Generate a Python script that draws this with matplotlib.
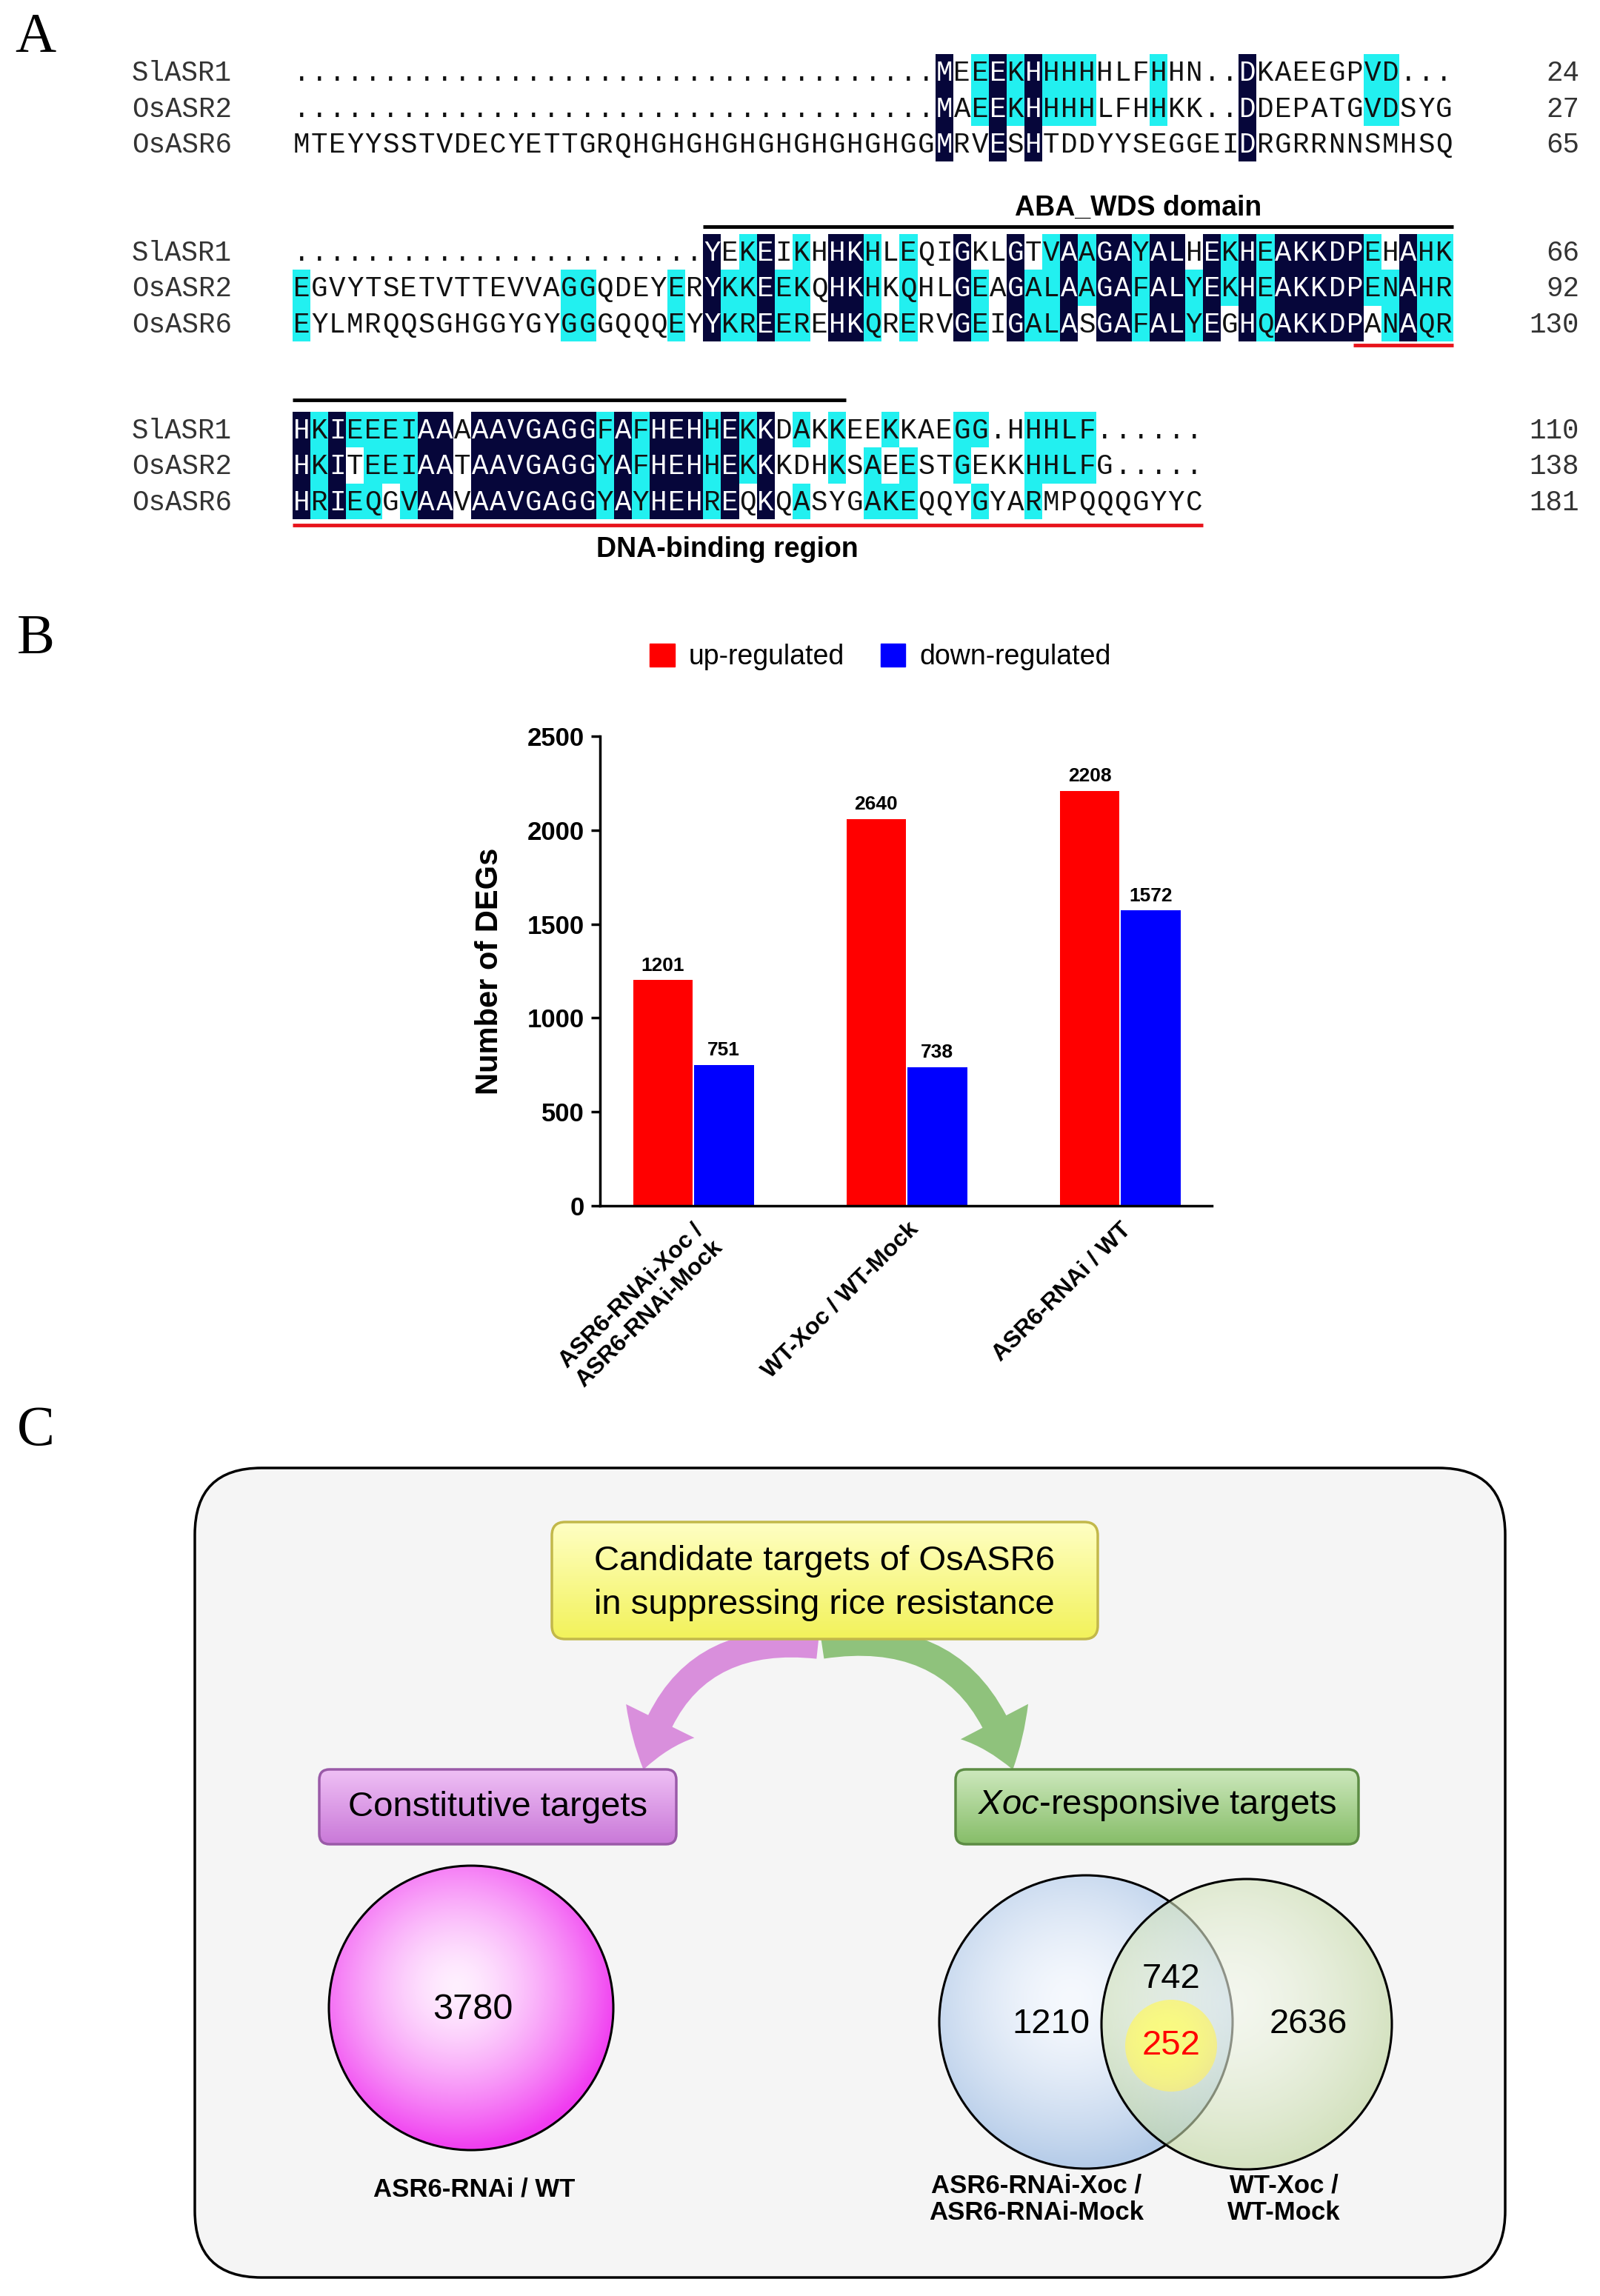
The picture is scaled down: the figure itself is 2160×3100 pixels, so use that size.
import matplotlib.pyplot as plt
import numpy as np
from matplotlib.colors import to_rgb
from matplotlib.patches import Circle, FancyArrowPatch, FancyBboxPatch, Patch, Rectangle

plt.rcParams["font.family"] = ["Liberation Sans", "DejaVu Sans"]
plt.rcParams["mathtext.fontset"] = "custom"
plt.rcParams["mathtext.it"] = "Liberation Sans:italic"
plt.rcParams["mathtext.rm"] = "Liberation Sans"

# ---- panel A: alignment ----
seq_names = ["SlASR1", "OsASR2", "OsASR6"]
block1 = [
    "." * 36 + "MEEEKHHHHHLFHHN..DKAEEGPVD...",
    "." * 36 + "MAEEKHHHHLFHHKK..DDEPATGVDSYG",
    "MTEYYSSTVDECYETTGRQHGHGHGHGHGHGHGHGGMRVESHTDDYYSEGGEIDRGRRNNSMHSQ",
]
block2 = [
    "." * 23 + "YEKEIKHHKHLEQIGKLGTVAAGAYALHEKHEAKKDPEHAHK",
    "EGVYTSETVTTEVVAGGQDEYERYKKEEKQHKHKQHLGEAGALAAGAFALYEKHEAKKDPENAHR",
    "EYLMRQQSGHGGYGYGGGQQQEYYKREEREHKQRERVGEIGALASGAFALYEGHQAKKDPANAQR",
]
block3 = [
    "HKIEEEIAAAAAVGAGGFAFHEHHEKKDAKKEEKKAEGG.HHHLF......",
    "HKITEEIAATAAVGAGGYAFHEHHEKKKDHKSAEESTGEKKHHLFG.....",
    "HRIEQGVAAVAAVGAGGYAYHEHREQKQASYGAKEQQYGYARMPQQQGYYC",
]
block_ends = [[24, 27, 65], [66, 92, 130], [110, 138, 181]]
similar_groups = ["KRH", "EQD", "HQ", "NQD", "ILVM", "FYW", "ST"]

# ---- panel B: DEG counts ----
comparisons = ["ASR6-RNAi-Xoc /\nASR6-RNAi-Mock", "WT-Xoc / WT-Mock", "ASR6-RNAi / WT"]
up_heights = [1201, 2060, 2208]
up_labels = [1201, 2640, 2208]
down_counts = [751, 738, 1572]

# ---- panel C: target sets ----
constitutive_n = 3780
xoc_left_only = 1210
xoc_shared = 742
xoc_core = 252
xoc_right_only = 2636

NAVY = "#06063a"
CYAN = "#22f0f0"
MONO = "Liberation Mono"

fig = plt.figure(figsize=(21.6, 31.0), dpi=100)
ax = fig.add_axes([0, 0, 1, 1])
ax.set_xlim(0, 2160)
ax.set_ylim(3100, 0)
ax.axis("off")


def is_similar(a, b):
    return a == b or any(a in g and b in g for g in similar_groups)


def column_shading(column):
    res = [c for c in column if c != "."]
    if len(res) < 2:
        return [None] * len(column)
    vals, counts = np.unique(res, return_counts=True)
    cons = vals[np.argmax(counts)]
    n = counts.max()
    if n == len(column):
        return ["navy"] * len(column)
    if n >= 2:
        return ["cyan" if c != "." and is_similar(c, cons) else None for c in column]
    return [None] * len(column)


col_w = 24.1
x_seq = 395
row_h = 48.5
block_tops = [97, 340, 580]

for blk, top, ends in zip([block1, block2, block3], block_tops, block_ends):
    ncol = len(blk[0])
    for j in range(ncol):
        column = [row[j] for row in blk]
        shade = column_shading(column)
        x0 = x_seq + j * col_w
        for r, (ch, s) in enumerate(zip(column, shade)):
            yc = top + r * row_h
            tc = "#111111"
            if s == "navy":
                ax.add_patch(Rectangle((x0, yc - row_h / 2), col_w, row_h, fc=NAVY, ec="none", zorder=1))
                tc = "white"
            elif s == "cyan":
                ax.add_patch(Rectangle((x0, yc - row_h / 2), col_w, row_h, fc=CYAN, ec="none", zorder=1))
            ax.text(x0 + col_w / 2, yc + 12, ch, ha="center", va="baseline",
                    fontsize=27, family=MONO, color=tc, zorder=2)
    for r in range(3):
        yc = top + r * row_h
        ax.text(178, yc + 12, seq_names[r], ha="left", va="baseline",
                fontsize=27, family=MONO, color="#333333")
        ax.text(2132, yc + 12, str(ends[r]), ha="right", va="baseline",
                fontsize=27, family=MONO, color="#333333")


def col_x(j):
    return x_seq + j * col_w


# domain annotations
ax.plot([col_x(23), col_x(65)], [306, 306], color="black", lw=3.5, solid_capstyle="butt")
ax.text(1537, 281, "ABA_WDS domain", ha="center", va="center", fontsize=27, fontweight="bold")
ax.plot([col_x(59.4), col_x(65)], [466, 466], color="#e8141c", lw=3.5, solid_capstyle="butt")
ax.plot([col_x(0), col_x(31)], [540, 540], color="black", lw=3.5, solid_capstyle="butt")
ax.plot([col_x(0), col_x(51)], [709, 709], color="#e8141c", lw=3.5, solid_capstyle="butt")
ax.text(982, 742, "DNA-binding region", ha="center", va="center", fontsize=27, fontweight="bold")

for lab, y in zip("ABC", [52, 864, 1933]):
    ax.text(48, y, lab, ha="center", va="center", fontsize=55, family="Liberation Serif")

# ---- panel B ----
axb = fig.add_axes([810 / 2160, 1 - 1628 / 3100, 826 / 2160, 634 / 3100])
x = np.arange(len(comparisons))
off, w = 0.143, 0.28
axb.bar(x - off, up_heights, w, color="#ff0000", label="up-regulated")
axb.bar(x + off, down_counts, w, color="#0000ff", label="down-regulated")
for xi, h, lab in zip(x, up_heights, up_labels):
    axb.text(xi - off, h + 30, str(lab), ha="center", va="bottom", fontsize=19, fontweight="bold")
for xi, h in zip(x, down_counts):
    axb.text(xi + off, h + 30, str(h), ha="center", va="bottom", fontsize=19, fontweight="bold")
axb.set_xlim(-0.4375, 2.43)
axb.set_ylim(0, 2500)
axb.set_yticks(range(0, 2501, 500))
for s in ["top", "right"]:
    axb.spines[s].set_visible(False)
for s in ["left", "bottom"]:
    axb.spines[s].set_linewidth(2.5)
axb.tick_params(axis="y", width=2.5, length=9, labelsize=25, pad=6)
for t in axb.get_yticklabels():
    t.set_fontweight("bold")
axb.set_xticks(x)
axb.set_xticklabels(comparisons, rotation=45, ha="right", rotation_mode="anchor",
                    fontsize=23, fontweight="bold", multialignment="center")
axb.tick_params(axis="x", length=0, pad=12)
axb.set_ylabel("Number of DEGs", fontsize=30, fontweight="bold", labelpad=22)
axb.legend(handles=[Patch(color="#ff0000", label="up-regulated"),
                    Patch(color="#0000ff", label="down-regulated")],
           ncol=2, loc="center", bbox_to_anchor=(0.458, 1.169), frameon=False,
           fontsize=27, handlelength=0.9, handleheight=0.9, handletextpad=0.5,
           columnspacing=1.3)


# ---- panel C ----
def gradient_box(x0, y0, wd, ht, c_top, c_bot, edge, rs, z):
    box = FancyBboxPatch((x0, y0), wd, ht, boxstyle=f"round,pad=0,rounding_size={rs}",
                         fc="none", ec="none", zorder=z)
    ax.add_patch(box)
    g = np.linspace(0, 1, 256)[:, None, None]
    img = np.array(to_rgb(c_top)) * (1 - g) + np.array(to_rgb(c_bot)) * g
    im = ax.imshow(img, extent=(x0, x0 + wd, y0 + ht, y0), aspect="auto",
                   interpolation="bilinear", zorder=z)
    im.set_clip_path(box)
    ax.add_patch(FancyBboxPatch((x0, y0), wd, ht, boxstyle=f"round,pad=0,rounding_size={rs}",
                                fc="none", ec=edge, lw=2.5, zorder=z + 0.1))


def radial_circle(cx, cy, r, c_in, c_out, z, alpha=1.0, power=1.5, edge="black"):
    circ = Circle((cx, cy), r, fc="none", ec="none", zorder=z)
    ax.add_patch(circ)
    s = np.linspace(-1, 1, 300)
    X, Y = np.meshgrid(s, s)
    d = np.clip(np.hypot(X + 0.1, Y + 0.15) / 1.15, 0, 1) ** power
    img = np.array(to_rgb(c_in)) + (np.array(to_rgb(c_out)) - np.array(to_rgb(c_in))) * d[..., None]
    rgba = np.dstack([img, np.full(d.shape, alpha)])
    im = ax.imshow(rgba, extent=(cx - r, cx + r, cy + r, cy - r), aspect="auto",
                   interpolation="bilinear", zorder=z)
    im.set_clip_path(circ)
    if edge:
        ax.add_patch(Circle((cx, cy), r, fc="none", ec=edge, lw=2.2, zorder=z + 0.1))


ax.add_patch(FancyBboxPatch((263, 1982), 1769, 1093, boxstyle="round,pad=0,rounding_size=90",
                            fc="#f5f5f5", ec="black", lw=2.5, zorder=0.5))

ax.add_patch(FancyArrowPatch((1107, 2222), (868, 2392), connectionstyle="arc3,rad=0.45",
                             arrowstyle="simple,head_length=50,head_width=74,tail_width=26",
                             fc="#d98fdc", ec="none", zorder=3))
ax.add_patch(FancyArrowPatch((1107, 2222), (1368, 2392), connectionstyle="arc3,rad=-0.45",
                             arrowstyle="simple,head_length=50,head_width=74,tail_width=26",
                             fc="#8fc27c", ec="none", zorder=3))

gradient_box(745, 2055, 737, 158, "#ffffc4", "#f2f25a", "#c2b84a", 18, 4)
ax.text(1113, 2108, "Candidate targets of OsASR6", ha="center", va="center", fontsize=34, zorder=5)
ax.text(1113, 2167, "in suppressing rice resistance", ha="center", va="center", fontsize=34, zorder=5)

gradient_box(431, 2389, 482, 101, "#efc0f5", "#c978d8", "#9a5aa8", 14, 4)
ax.text(672, 2440, "Constitutive targets", ha="center", va="center", fontsize=34, zorder=5)
gradient_box(1290, 2389, 544, 101, "#cde8bd", "#86bd68", "#5c8c44", 14, 4)
ax.text(1562, 2437, r"$\mathit{Xoc}$-responsive targets", ha="center", va="center", fontsize=34, zorder=5)

radial_circle(636, 2711, 192, "#fff0ff", "#f03cf0", 4)
ax.text(638, 2713, str(constitutive_n), ha="center", va="center", fontsize=35, zorder=6)
ax.text(640, 2956, "ASR6-RNAi / WT", ha="center", va="center", fontsize=25, fontweight="bold")

radial_circle(1466, 2730, 198, "#f6f9fe", "#b4cbe8", 4)
radial_circle(1683, 2733, 196, "#f3f8ea", "#bed59c", 4.5, alpha=0.6)
radial_circle(1581, 2762, 62, "#ffff70", "#f6ee80", 5, alpha=0.85, power=2.0, edge=None)
ax.text(1581, 2672, str(xoc_shared), ha="center", va="center", fontsize=34, zorder=6)
ax.text(1419, 2733, str(xoc_left_only), ha="center", va="center", fontsize=34, zorder=6)
ax.text(1766, 2733, str(xoc_right_only), ha="center", va="center", fontsize=34, zorder=6)
ax.text(1581, 2762, str(xoc_core), ha="center", va="center", fontsize=34, color="#ff0000", zorder=6)
ax.text(1399, 2969, "ASR6-RNAi-Xoc /\nASR6-RNAi-Mock", ha="center", va="center",
        fontsize=25, fontweight="bold", linespacing=1.15)
ax.text(1733, 2969, "WT-Xoc /\nWT-Mock", ha="center", va="center",
        fontsize=25, fontweight="bold", linespacing=1.15)

ax.set_xlim(0, 2160)
ax.set_ylim(3100, 0)
fig.savefig("out.png", dpi=100)
